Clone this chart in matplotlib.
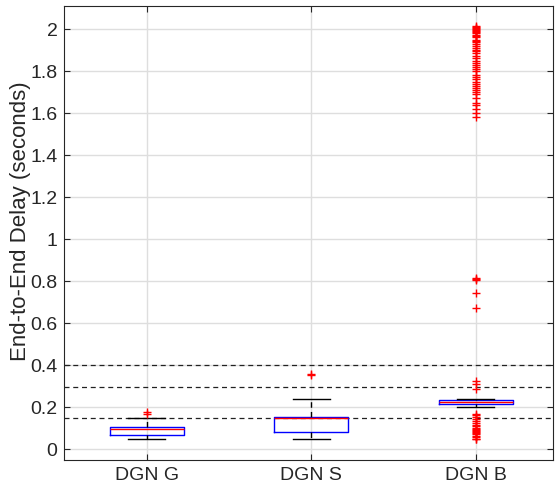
import matplotlib
matplotlib.use("Agg")
from matplotlib import pyplot as plt

plt.rcParams["font.family"] = ["Liberation Sans", "DejaVu Sans"]

# data
labels = ["DGN G", "DGN S", "DGN B"]
medians = [0.099, 0.152, 0.227]
q1 = [0.070, 0.084, 0.218]
q3 = [0.108, 0.154, 0.237]
whislo = [0.048, 0.048, 0.200]
whishi = [0.151, 0.241, 0.241]

fliers_g = [0.170, 0.178]
fliers_s = [0.355, 0.360]
fliers_b = [
    # low cluster
    0.048, 0.052, 0.058, 0.065, 0.072, 0.078, 0.083, 0.088, 0.093, 0.098,
    0.103, 0.110, 0.118, 0.125, 0.135, 0.145, 0.155, 0.163, 0.170,
    # just above the box
    0.290, 0.310, 0.325,
    # middle
    0.675, 0.745, 0.805, 0.810, 0.815,
    # top cluster
    1.580, 1.600, 1.620, 1.640, 1.650, 1.670, 1.690, 1.700, 1.710, 1.720,
    1.730, 1.740, 1.750, 1.760, 1.770, 1.780, 1.800, 1.810, 1.820, 1.830,
    1.840, 1.850, 1.860, 1.870, 1.885, 1.895, 1.900, 1.910, 1.920, 1.930,
    1.940, 1.945, 1.950, 1.960, 1.965, 1.970, 1.980, 1.985, 1.990, 1.995,
    2.000, 2.005, 2.010, 2.015,
]
fliers = [fliers_g, fliers_s, fliers_b]
ref_lines = [0.40, 0.295, 0.15]

stats = []
for i in range(len(labels)):
    stats.append(dict(med=medians[i], q1=q1[i], q3=q3[i], whislo=whislo[i],
                      whishi=whishi[i], fliers=fliers[i], label=labels[i]))

fig = plt.figure(figsize=(5.55, 4.91), dpi=100)
ax = fig.add_axes([0.116, 0.064, 0.881, 0.924])

ax.grid(True, color="#dedede", linewidth=1.0, zorder=0)
ax.set_axisbelow(True)

for yv in ref_lines:
    ax.axhline(yv, color="#222222", linestyle=(0, (4, 3)), linewidth=0.9, zorder=1)

ax.bxp(stats, positions=[1, 2, 3], widths=0.45, showfliers=True,
       boxprops=dict(color="blue", linewidth=1.0),
       medianprops=dict(color="red", linewidth=1.0),
       whiskerprops=dict(color="black", linewidth=1.0, linestyle=(0, (4, 3))),
       capprops=dict(color="black", linewidth=1.0),
       capwidths=0.225,
       flierprops=dict(marker="+", markeredgecolor="red", markersize=6,
                       markeredgewidth=1.0, linestyle="none"))

ax.set_xlim(0.5, 3.47)
ax.set_ylim(-0.048, 2.11)
ax.set_yticks([0, 0.2, 0.4, 0.6, 0.8, 1, 1.2, 1.4, 1.6, 1.8, 2])
ax.set_yticklabels(["0", "0.2", "0.4", "0.6", "0.8", "1", "1.2", "1.4", "1.6", "1.8", "2"])
ax.set_xticks([1, 2, 3])
ax.set_xticklabels(labels)
ax.set_ylabel("End-to-End Delay (seconds)", fontsize=16, color="#262626")
ax.yaxis.set_label_coords(-0.069, 0.526)

ax.tick_params(axis="both", direction="in", top=True, right=True, length=4,
               width=0.8, colors="#262626", labelsize=14, pad=5)
for s in ax.spines.values():
    s.set_color("#262626")
    s.set_linewidth(0.8)

fig.savefig("out.png", dpi=100)
